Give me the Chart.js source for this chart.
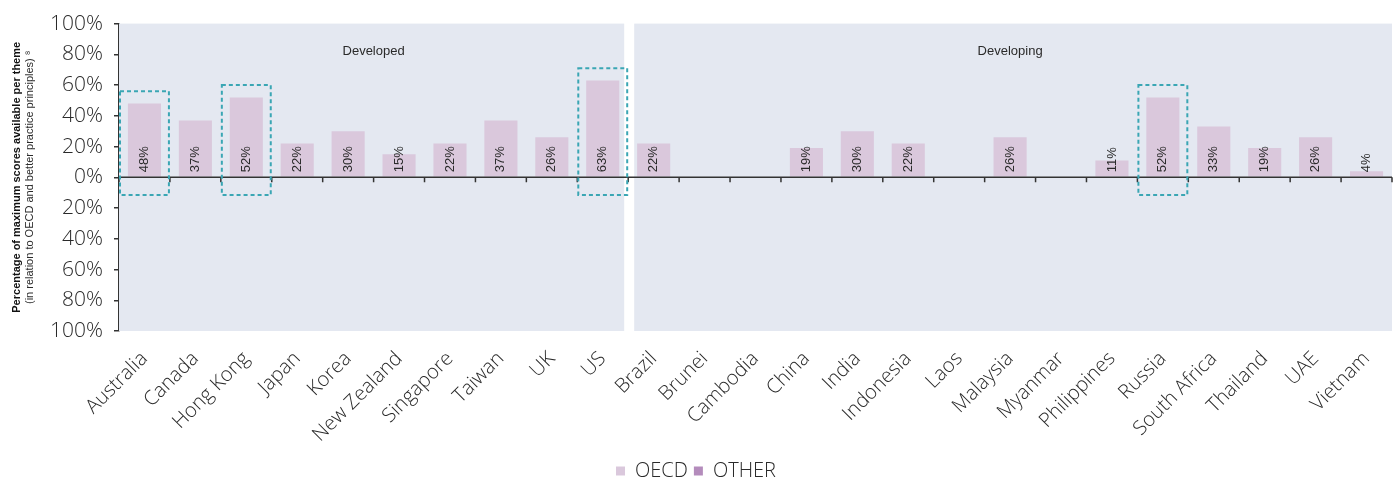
<!DOCTYPE html>
<html>
<head>
<meta charset="utf-8">
<script src="https://cdn.jsdelivr.net/npm/chart.js@4"></script>
<style>
  body { margin: 0; background: #fff; }
  #wrap { width: 1397px; height: 481px; }
</style>
</head>
<body>
<div id="wrap"><canvas id="chart"></canvas></div>
<script>
// Categories and values
const countries = ['Australia', 'Canada', 'Hong Kong', 'Japan', 'Korea', 'New Zealand', 'Singapore', 'Taiwan', 'UK', 'US',
    'Brazil', 'Brunei', 'Cambodia', 'China', 'India', 'Indonesia', 'Laos', 'Malaysia', 'Myanmar', 'Philippines',
    'Russia', 'South Africa', 'Thailand', 'UAE', 'Vietnam'];
const oecdValues = [48, 37, 52, 22, 30, 15, 22, 37, 26, 63,
    22, 0, 0, 19, 30, 22, 0, 26, 0, 11,
    52, 33, 19, 26, 4];
const otherValues = countries.map(() => null);
const developedCount = 10;
const highlighted = ['Australia', 'Hong Kong', 'US', 'Russia'];
const yTicks = [-100, -80, -60, -40, -20, 0, 20, 40, 60, 80, 100];

const FONT = "'Open Sans', 'Liberation Sans', Arial, sans-serif";
const SANS = "'Liberation Sans', Arial, sans-serif";
const TEXT = '#2a2a2a';

// Panels, dashed boxes, zero line, value labels, axis title
const decorations = {
    id: 'decorations',
    beforeDatasetsDraw(chart) {
        const { ctx, chartArea: a, scales: { x, y } } = chart;
        const half = (x.getPixelForValue(1) - x.getPixelForValue(0)) / 2;
        const split = x.getPixelForValue(developedCount) - half;
        ctx.save();
        ctx.fillStyle = '#e4e8f1';
        ctx.fillRect(a.left, a.top, split - 4 - a.left, a.bottom - a.top);
        ctx.fillRect(split + 6, a.top, a.right - split - 6, a.bottom - a.top);
        ctx.fillStyle = TEXT;
        ctx.font = '13px ' + SANS;
        ctx.textAlign = 'center';
        ctx.textBaseline = 'middle';
        ctx.fillText('Developed', (a.left + split) / 2, y.getPixelForValue(82));
        ctx.fillText('Developing', (split + a.right) / 2, y.getPixelForValue(82));
        ctx.restore();
    },
    afterDatasetsDraw(chart) {
        const { ctx, chartArea: a, scales: { x, y } } = chart;
        const half = (x.getPixelForValue(1) - x.getPixelForValue(0)) / 2;
        const y0 = y.getPixelForValue(0);
        ctx.save();

        // zero line with category ticks
        ctx.strokeStyle = '#333';
        ctx.lineWidth = 1.5;
        ctx.beginPath();
        ctx.moveTo(a.left, y0);
        ctx.lineTo(a.right, y0);
        for (let i = 0; i <= countries.length; i++) {
            const px = x.getPixelForValue(i) - half;
            ctx.moveTo(px, y0);
            ctx.lineTo(px, y0 + 5);
        }
        ctx.stroke();

        // value labels
        ctx.fillStyle = TEXT;
        ctx.font = '13px ' + SANS;
        ctx.textAlign = 'left';
        ctx.textBaseline = 'middle';
        oecdValues.forEach((v, i) => {
            if (!v) return;
            ctx.save();
            ctx.translate(x.getPixelForValue(i), y0 - 5);
            ctx.rotate(-Math.PI / 2);
            ctx.fillText(v + '%', 0, 0);
            ctx.restore();
        });

        // dashed highlight boxes
        ctx.strokeStyle = '#3aa6b4';
        ctx.lineWidth = 2;
        ctx.setLineDash([4, 3]);
        highlighted.forEach(name => {
            const i = countries.indexOf(name);
            const cx = x.getPixelForValue(i);
            const top = y.getPixelForValue(oecdValues[i] + 8);
            const bottom = y.getPixelForValue(-11.5);
            ctx.strokeRect(cx - half + 1, top, half * 2 - 2, bottom - top);
        });
        ctx.setLineDash([]);

        // y axis title (two lines, bold + regular)
        const cy = (a.top + a.bottom) / 2;
        ctx.translate(0, cy);
        ctx.rotate(-Math.PI / 2);
        ctx.textAlign = 'center';
        ctx.fillStyle = '#111';
        ctx.font = 'bold 11px ' + SANS;
        ctx.fillText('Percentage of maximum scores available per theme', 0, 17);
        ctx.fillStyle = TEXT;
        ctx.font = '11px ' + SANS;
        ctx.fillText('(in relation to OECD and better practice principles) \u2078', 0, 30);
        ctx.restore();
    }
};

const ctx = document.getElementById('chart').getContext('2d');
new Chart(ctx, {
    type: 'bar',
    data: {
        labels: countries,
        datasets: [{
            label: 'OECD',
            data: oecdValues,
            backgroundColor: '#dac8dc',
            borderColor: '#dac8dc',
            categoryPercentage: 1,
            barPercentage: 0.65
        }, {
            label: 'OTHER',
            data: otherValues,
            backgroundColor: '#b48cbc',
            borderColor: '#b48cbc',
            categoryPercentage: 1,
            barPercentage: 0.65
        }]
    },
    options: {
        responsive: true,
        maintainAspectRatio: false,
        animation: false,
        layout: { padding: { left: 0, right: 5, top: 4, bottom: -10 } },
        plugins: {
            legend: {
                position: 'bottom',
                labels: {
                    boxWidth: 9,
                    boxHeight: 9,
                    padding: 6,
                    color: TEXT,
                    font: { family: FONT, size: 20, weight: 300 }
                }
            },
            tooltip: { enabled: false }
        },
        scales: {
            x: {
                stacked: true,
                grid: { display: false },
                border: { display: false },
                afterFit: axis => { axis.height = 124; },
                ticks: {
                    color: TEXT,
                    padding: 8,
                    font: { family: FONT, size: 20, weight: 300 },
                    minRotation: 45,
                    maxRotation: 45,
                    autoSkip: false
                }
            },
            y: {
                stacked: true,
                min: -100,
                max: 100,
                afterBuildTicks: axis => { axis.ticks = yTicks.map(v => ({ value: v })); },
                afterFit: axis => { axis.width = 119; },
                grid: { drawOnChartArea: false, tickLength: 5, color: '#333', lineWidth: 1.5 },
                border: { color: '#333', width: 1.5 },
                ticks: {
                    color: TEXT,
                    padding: 11,
                    font: { family: FONT, size: 21, weight: 300 },
                    callback: v => Math.abs(v) + '%'
                }
            }
        }
    },
    plugins: [decorations]
});
</script>
</body>
</html>
